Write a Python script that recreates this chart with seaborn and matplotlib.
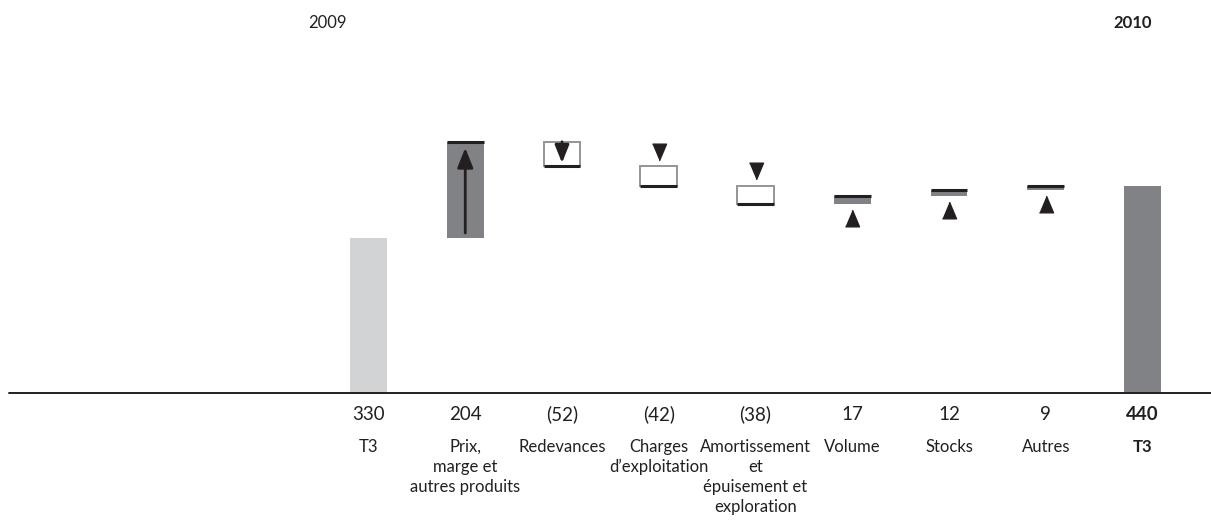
import numpy as np
import pandas as pd
import matplotlib
matplotlib.use("Agg")
import matplotlib.pyplot as plt
import seaborn as sns

# ---- data ---------------------------------------------------------------
keys = ["T3 2009", "Prix", "Redevances", "Charges", "Amortissement",
        "Volume", "Stocks", "Autres", "T3 2010"]
labels = ["T3", "Prix,\nmarge et\nautres produits", "Redevances",
          "Charges\nd\u2019exploitation",
          "Amortissement\net\népuisement et\nexploration",
          "Volume", "Stocks", "Autres", "T3"]
values = [330, 204, -52, -42, -38, 17, 12, 9, 440]
value_labels = ["330", "204", "(52)", "(42)", "(38)", "17", "12", "9", "440"]
kinds = ["start", "up", "down", "down", "down", "up", "up", "up", "end"]
years = ["2009", "2010"]

# ---- waterfall geometry -------------------------------------------------
bottoms, heights = [], []
running = 0
for v, k in zip(values, kinds):
    if k in ("start", "end"):
        bottoms.append(0)
        heights.append(v)
        running = v
    else:
        bottoms.append(min(running, running + v))
        heights.append(abs(v))
        running += v
df = pd.DataFrame({"key": keys, "bottom": bottoms, "height": heights,
                   "kind": kinds})

# ---- style ---------------------------------------------------------------
sns.set_style("white")
plt.rcParams["font.family"] = ["Lato", "DejaVu Sans"]

LIGHT = "#d1d3d4"
DARK = "#808285"
OUTLINE = "#939598"
INK = "#231f20"
BAR_W = 0.38

fig = plt.figure(figsize=(12.11, 5.21), dpi=100)
ax = fig.add_axes([0, 0, 1, 1])

fill = {"start": LIGHT, "up": DARK, "down": "white", "end": DARK}
edge = {"start": LIGHT, "up": DARK, "down": OUTLINE, "end": DARK}
lw = {"start": 0, "up": 0, "down": 1.4, "end": 0}

for i, row in df.iterrows():
    sns.barplot(x=[row["key"]], y=[row["height"]], order=keys,
                bottom=row["bottom"], width=BAR_W, color=fill[row["kind"]],
                saturation=1, edgecolor=edge[row["kind"]],
                linewidth=lw[row["kind"]], ax=ax)

# accent lines and direction markers
arrow_style = "-|>,head_length=0.6,head_width=0.24"
tri_down = [(-0.42, 0.5), (0.42, 0.5), (0.0, -0.5)]
tri_up = [(-0.42, -0.5), (0.42, -0.5), (0.0, 0.5)]
for i, row in df.iterrows():
    b, h, k = row["bottom"], row["height"], row["kind"]
    x0, x1 = i - BAR_W / 2, i + BAR_W / 2
    if k == "up":
        ax.hlines(b + h, x0, x1, color=INK, lw=2.2, zorder=4)
        if h > 100:
            ax.annotate("", xy=(i, b + h - 13), xytext=(i, b + 10),
                        arrowprops=dict(arrowstyle=arrow_style, lw=2, color=INK,
                                        mutation_scale=20, shrinkA=0, shrinkB=0),
                        zorder=5)
        else:
            ax.plot(i, b - 30, marker=tri_up, ms=12, color=INK, ls="none", zorder=5)
    elif k == "down":
        ax.hlines(b, x0, x1, color=INK, lw=2.2, zorder=4)
        if h > 50:
            ax.annotate("", xy=(i, b + 7), xytext=(i, b + h),
                        arrowprops=dict(arrowstyle=arrow_style, lw=2, color=INK,
                                        mutation_scale=18, shrinkA=0, shrinkB=0),
                        zorder=5)
        else:
            ax.plot(i, b + h + 31, marker=tri_down, ms=12, color=INK, ls="none", zorder=5)

# baseline
ax.axhline(0, xmin=9 / 1211, xmax=1, color=INK, lw=1.4, zorder=6)

# value and category labels under the axis
for i, (vl, lab, k) in enumerate(zip(value_labels, labels, kinds)):
    wt = "bold" if k == "end" else "normal"
    ax.text(i, -45, vl, ha="center", va="center", fontsize=13.5,
            color=INK, fontweight=wt)
    ax.text(i, -98, lab, ha="center", va="top", fontsize=12,
            color=INK, fontweight=wt, linespacing=1.3)

# year headers
fig.text(327 / 1211, 1 - 23 / 521, years[0], ha="center", va="center",
         fontsize=12, color=INK)
fig.text(1133 / 1211, 1 - 23 / 521, years[1], ha="center", va="center",
         fontsize=12, color=INK, fontweight="bold")

# scale: category 0 centred at x=368.5 px, 96.75 px per step; baseline at y=393 px
step = 96.75
ax.set_xlim(-368.5 / step, (1211 - 368.5) / step)
ppu = 0.4705
ax.set_ylim(-(521 - 393) / ppu, 393 / ppu)
ax.set_axis_off()

fig.savefig("out.png", dpi=100, facecolor="white")
